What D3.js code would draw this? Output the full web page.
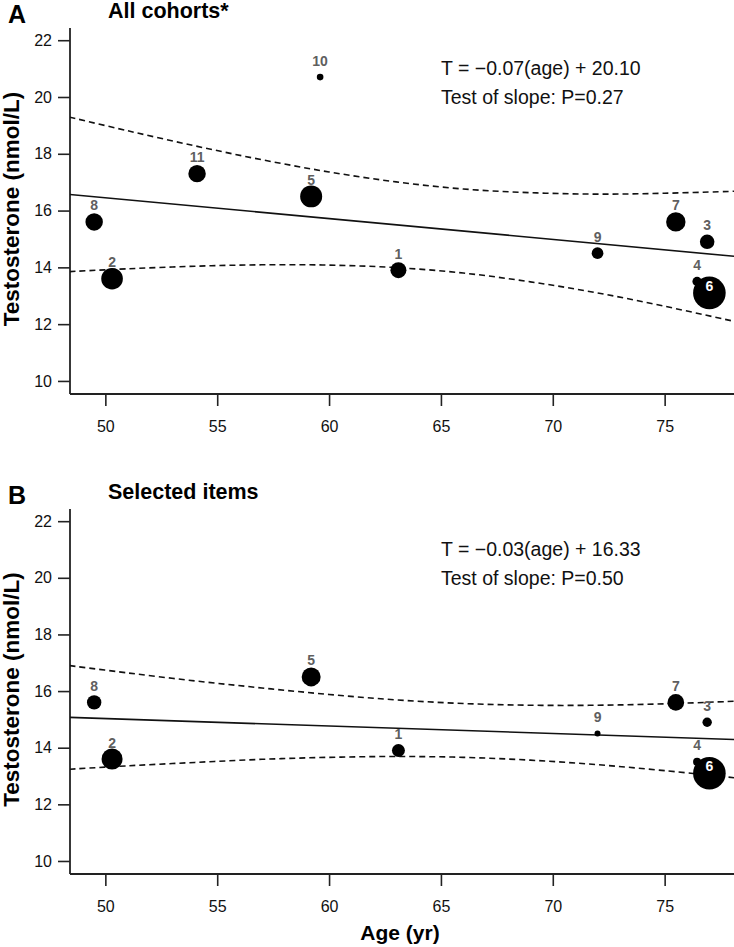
<!DOCTYPE html>
<html>
<head>
<meta charset="utf-8">
<script src="https://cdn.jsdelivr.net/npm/d3@7"></script>
<style>
  html, body { margin: 0; padding: 0; background: #fff; }
  svg { display: block; font-family: "Liberation Sans", Arial, Helvetica, sans-serif; }
</style>
</head>
<body>
<svg id="chart" width="734" height="947"></svg>
<script>
// ---------- data ----------
const xTicks = [50, 55, 60, 65, 70, 75];
const yTicks = [10, 12, 14, 16, 18, 20, 22];

// Panel A: all cohorts
const idsA = [1, 2, 3, 4, 5, 6, 7, 8, 9, 10, 11];
const ageA = [63.1, 50.3, 76.9, 76.45, 59.2, 77.0, 75.5, 49.5, 72.0, 59.6, 54.1];
const testoA = [13.9, 13.6, 14.9, 13.5, 16.5, 13.1, 15.6, 15.6, 14.5, 20.7, 17.3];
const weightA = [64, 117, 53, 22, 121, 266, 94, 76, 34, 11, 76];

// Panel B: selected items
const idsB = [1, 2, 3, 4, 5, 6, 7, 8, 9];
const ageB = [63.1, 50.3, 76.9, 76.45, 59.2, 77.0, 75.5, 49.5, 72.0];
const testoB = [13.9, 13.6, 14.9, 13.5, 16.5, 13.1, 15.6, 15.6, 14.5];
const weightB = [42, 110, 22, 16, 90, 266, 69, 52, 9];

// regression lines and confidence bands
const fitAges = [48.4, 78.1];
const fitA = [16.57, 14.39];
const fitB = [15.07, 14.29];
const ciAges = [48.4, 51, 54, 57, 60, 63, 66, 69, 72, 75, 78.1];
const upperA = [19.29, 18.81, 18.28, 17.79, 17.36, 17.01, 16.76, 16.63, 16.58, 16.61, 16.68];
const lowerA = [13.85, 13.95, 14.04, 14.09, 14.08, 13.99, 13.80, 13.49, 13.10, 12.63, 12.10];
const upperB = [16.90, 16.64, 16.36, 16.11, 15.88, 15.69, 15.56, 15.50, 15.50, 15.55, 15.64];
const lowerB = [13.24, 13.36, 13.48, 13.59, 13.66, 13.69, 13.66, 13.56, 13.40, 13.19, 12.94];

const panels = [
  { letter: "A", title: "All cohorts*", eq: "T = \u22120.07(age) + 20.10", p: "Test of slope: P=0.27",
    ids: idsA, ages: ageA, testo: testoA, weights: weightA, fit: fitA, upper: upperA, lower: lowerA, top: 28, bottom: 394 },
  { letter: "B", title: "Selected items", eq: "T = \u22120.03(age) + 16.33", p: "Test of slope: P=0.50",
    ids: idsB, ages: ageB, testo: testoB, weights: weightB, fit: fitB, upper: upperB, lower: lowerB, top: 509, bottom: 874 }
];

// ---------- drawing ----------
const svg = d3.select("#chart");
const left = 70, right = 734;
const x = d3.scaleLinear().domain([48.42, 78.1]).range([left, right]);
const rScale = d3.scaleSqrt().domain([0, 266]).range([0, 16.3]);
const axisColor = "#222";

panels.forEach((P, pi) => {
  const y = d3.scaleLinear().domain([9.54, 22.43]).range([P.bottom, P.top]);
  const g = svg.append("g");

  const clipId = "clip" + pi;
  svg.append("clipPath").attr("id", clipId).append("rect")
    .attr("x", left).attr("y", P.top - 20).attr("width", right - left).attr("height", P.bottom - P.top + 20);

  // axes
  const xAxis = d3.axisBottom(x).tickValues(xTicks).tickSize(12).tickPadding(8).tickFormat(d3.format("d"));
  const gx = g.append("g").attr("transform", `translate(0,${P.bottom})`).call(xAxis);
  gx.select(".domain").attr("d", `M${left},0H${right}`);
  const yAxis = d3.axisLeft(y).tickValues(yTicks).tickSize(12).tickPadding(6).tickFormat(d3.format("d"));
  const gy = g.append("g").attr("transform", `translate(${left},0)`).call(yAxis);
  gy.select(".domain").attr("d", `M0,${P.top}V${P.bottom}`);
  [gx, gy].forEach(a => {
    a.selectAll(".domain").attr("stroke", axisColor).attr("stroke-width", 1.8).attr("fill", "none");
    a.selectAll(".tick line").attr("stroke", axisColor).attr("stroke-width", 1.6);
    a.selectAll(".tick text").attr("fill", "#111").style("font-size", "16px")
      .style("font-family", '"Liberation Sans", Arial, sans-serif');
  });
  gx.selectAll(".tick text").attr("dy", null).attr("y", 38);

  // regression & CI lines
  const plot = g.append("g").attr("clip-path", `url(#${clipId})`);
  const line = d3.line().x(d => x(d[0])).y(d => y(d[1]));
  const curve = d3.line().x(d => x(d[0])).y(d => y(d[1])).curve(d3.curveCatmullRom);
  plot.append("path").datum(fitAges.map((a, i) => [a, P.fit[i]]))
    .attr("d", line).attr("fill", "none").attr("stroke", "#111").attr("stroke-width", 1.6);
  [P.upper, P.lower].forEach(arr => {
    plot.append("path").datum(ciAges.map((a, i) => [a, arr[i]]))
      .attr("d", curve).attr("fill", "none").attr("stroke", "#111")
      .attr("stroke-width", 1.6).attr("stroke-dasharray", "6,4");
  });

  // points
  const pts = P.ids.map((id, i) => ({ id, age: P.ages[i], t: P.testo[i], w: P.weights[i] }));
  g.append("g").selectAll("circle").data(pts).join("circle")
    .attr("cx", d => x(d.age)).attr("cy", d => y(d.t)).attr("r", d => rScale(d.w))
    .attr("fill", "#000");
  g.append("g").selectAll("text").data(pts).join("text")
    .attr("x", d => x(d.age))
    .attr("y", d => rScale(d.w) > 14 ? y(d.t) - 2 : y(d.t) - 11.5)
    .attr("text-anchor", "middle")
    .attr("fill", d => rScale(d.w) > 14 ? "#fff" : "#5f5f5f")
    .style("font-size", "14px").style("font-weight", "bold")
    .text(d => d.id);

  // panel letter & title
  const off = P.top - 28;
  g.append("text").attr("x", 8).attr("y", off + 23).text(P.letter)
    .style("font-size", "25px").style("font-weight", "bold").attr("fill", "#000");
  g.append("text").attr("x", 108).attr("y", off + 18).text(P.title)
    .style("font-size", "21.5px").style("font-weight", "bold").attr("fill", "#000");

  // equation text
  g.append("text").attr("x", 441).attr("y", off + 75).text(P.eq)
    .style("font-size", "19.5px").attr("fill", "#111");
  g.append("text").attr("x", 441).attr("y", off + 103.5).text(P.p)
    .style("font-size", "19.5px").attr("fill", "#111");

  // y axis title
  g.append("text")
    .attr("transform", `translate(19,${(P.top + P.bottom) / 2 - 2}) rotate(-90)`)
    .attr("text-anchor", "middle")
    .style("font-size", "22.5px").style("font-weight", "bold").attr("fill", "#000")
    .text("Testosterone (nmol/L)");
});

// x axis title
svg.append("text").attr("x", 400).attr("y", 939.5).attr("text-anchor", "middle")
  .style("font-size", "21px").style("font-weight", "bold").attr("fill", "#000")
  .text("Age (yr)");
</script>
</body>
</html>
